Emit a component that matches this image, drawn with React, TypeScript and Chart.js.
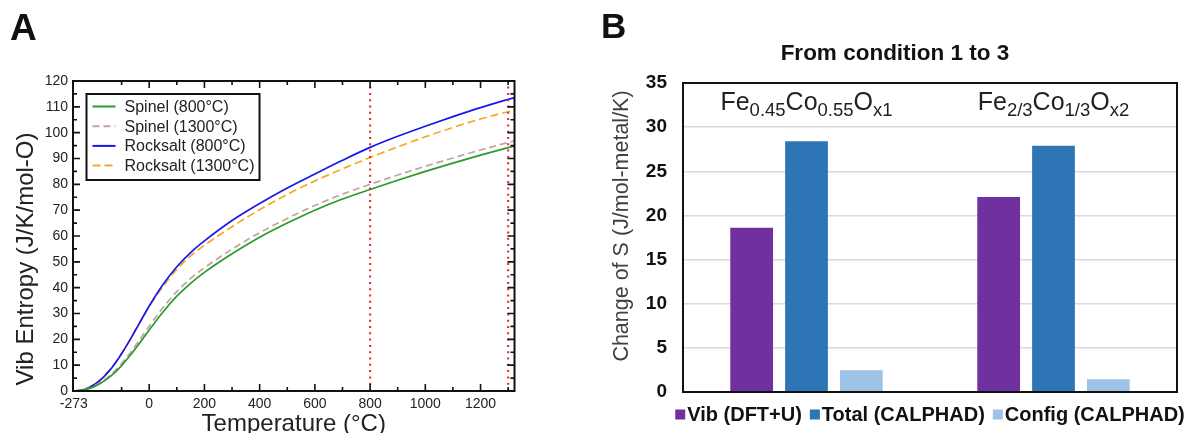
import React, { useEffect, useRef } from "react";
import { Chart, registerables } from "chart.js";

Chart.register(...registerables);

const FONT = "'Liberation Sans', Arial, Helvetica, sans-serif";
Chart.defaults.font.family = FONT;

// ---------- Panel A data ----------
const temperatures = [-273, -250, -225, -200, -175, -150, -125, -100, -75, -50, -25, 0, 50, 100, 150, 200, 300, 400, 500, 600, 700, 800, 900, 1000, 1100, 1200, 1300, 1325];
const spinel800 = [0, 0.2, 0.7, 1.7, 3.1, 4.9, 7.15, 9.85, 12.95, 16.35, 19.95, 23.6, 30.6, 36.7, 41.7, 45.9, 53.1, 59.5, 65, 70, 74.3, 78, 81.6, 85, 88.2, 91.3, 94.2, 94.9];
const spinel1300 = [0, 0.25, 0.8, 1.9, 3.4, 5.3, 7.7, 10.6, 13.9, 17.5, 21.3, 25.1, 32.3, 38.5, 43.6, 47.7, 54.9, 61.3, 66.8, 71.8, 76.2, 80, 83.6, 87, 90.2, 93.3, 96.2, 96.9];
const rocksalt800 = [0, 0.3, 1.0, 2.4, 4.4, 7.1, 10.45, 14.4, 18.8, 23.5, 28.25, 32.9, 41.2, 48.1, 53.6, 58.1, 66, 72.6, 78.6, 84, 89.3, 94.3, 98.6, 102.5, 106.2, 109.7, 112.9, 113.6];
const rocksalt1300 = [0, 0.35, 1.1, 2.6, 4.7, 7.4, 10.7, 14.6, 18.9, 23.5, 28.1, 32.6, 40.5, 47.1, 52.3, 56.4, 63.6, 70.2, 76.1, 81.3, 86, 90.4, 94.5, 98.4, 102, 105.3, 108.1, 108.7];
const seriesLabelsA = ["Spinel (800°C)", "Spinel (1300°C)", "Rocksalt (800°C)", "Rocksalt (1300°C)"];
const markerTemps = [800, 1300];
const xTicksA = [-273, 0, 200, 400, 600, 800, 1000, 1200];
const xMinorTicksA = [-100, 100, 300, 500, 700, 900, 1100, 1300];
const yTicksA = [0, 10, 20, 30, 40, 50, 60, 70, 80, 90, 100, 110, 120];
const yMinorTicksA = [5, 15, 25, 35, 45, 55, 65, 75, 85, 95, 105, 115];
const xRangeA = [-276, 1323];
const yRangeA = [0, 120];
const xTitleA = "Temperature (°C)";
const yTitleA = "Vib Entropy (J/K/mol-O)";

// ---------- Panel B data ----------
const compounds = ["Fe0.45Co0.55Ox1", "Fe2/3Co1/3Ox2"];
const compoundParts: [string, number][][] = [
  [["Fe", 0], ["0.45", 1], ["Co", 0], ["0.55", 1], ["O", 0], ["x1", 1]],
  [["Fe", 0], ["2/3", 1], ["Co", 0], ["1/3", 1], ["O", 0], ["x2", 1]],
];
const vibDFT = [18.6, 22.1];
const totalCALPHAD = [28.4, 27.9];
const configCALPHAD = [2.45, 1.45];
const seriesLabelsB = ["Vib (DFT+U)", "Total (CALPHAD)", "Config (CALPHAD)"];
const yTicksB = [0, 5, 10, 15, 20, 25, 30, 35];
const yRangeB = [0, 35];
const titleB = "From condition 1 to 3";
const yTitleB = "Change of S (J/mol-metal/K)";
const formulaBaselineValue = 31.9;

const colorsA = ["#2a9a2a", "#c4a2a2", "#1818ee", "#f7a628"];
const dashesA: number[][] = [[], [7, 4], [], [8, 4]];
const colorsB = ["#7030a0", "#2e75b6", "#9dc3e6"];

const panelAPlugin = {
  id: "panelA",
  afterDatasetsDraw(chart: any) {
    const { ctx, chartArea: ca, scales } = chart;
    const x = scales.x;
    const y = scales.y;
    ctx.save();
    ctx.strokeStyle = "#111";
    ctx.lineWidth = 2;
    ctx.strokeRect(ca.left, ca.top, ca.right - ca.left, ca.bottom - ca.top);
    ctx.lineWidth = 1.6;
    ctx.beginPath();
    const xt = (v: number, len: number) => {
      const px = x.getPixelForValue(v);
      ctx.moveTo(px, ca.bottom);
      ctx.lineTo(px, ca.bottom - len);
      ctx.moveTo(px, ca.top);
      ctx.lineTo(px, ca.top + len);
    };
    const yt = (v: number, len: number) => {
      const py = y.getPixelForValue(v);
      ctx.moveTo(ca.left, py);
      ctx.lineTo(ca.left + len, py);
      ctx.moveTo(ca.right, py);
      ctx.lineTo(ca.right - len, py);
    };
    xTicksA.slice(1).forEach((v) => xt(v, 7));
    xMinorTicksA.forEach((v) => xt(v, 4));
    yTicksA.forEach((v) => yt(v, 7));
    yMinorTicksA.forEach((v) => yt(v, 4));
    ctx.stroke();

    // y title
    ctx.save();
    ctx.translate(26, 259);
    ctx.rotate(-Math.PI / 2);
    ctx.font = `24px ${FONT}`;
    ctx.fillStyle = "#222";
    ctx.textAlign = "center";
    ctx.textBaseline = "middle";
    ctx.fillText(yTitleA, 0, 0);
    ctx.restore();

    // legend
    ctx.font = `16px ${FONT}`;
    const series = chart.data.datasets.filter((d: any) => d.isSeries);
    const maxW = Math.max(...series.map((d: any) => ctx.measureText(d.label).width));
    const bx = ca.left + 13.5;
    const by = ca.top + 13;
    const bw = 38 + maxW + 5;
    const bh = 86;
    ctx.fillStyle = "#fff";
    ctx.fillRect(bx, by, bw, bh);
    ctx.strokeStyle = "#111";
    ctx.lineWidth = 2;
    ctx.strokeRect(bx, by, bw, bh);
    series.forEach((d: any, i: number) => {
      const ry = by + 12.5 + i * 19.7;
      ctx.beginPath();
      ctx.strokeStyle = d.borderColor;
      ctx.lineWidth = 2;
      ctx.setLineDash(d.borderDash || []);
      ctx.moveTo(bx + 6, ry);
      ctx.lineTo(bx + 29, ry);
      ctx.stroke();
      ctx.setLineDash([]);
      ctx.fillStyle = "#222";
      ctx.textAlign = "left";
      ctx.textBaseline = "middle";
      ctx.fillText(d.label, bx + 38, ry + 1);
    });
    ctx.restore();
  },
};

const panelBPlugin = {
  id: "panelB",
  afterDatasetsDraw(chart: any) {
    const { ctx, chartArea: ca, scales } = chart;
    const x = scales.x;
    const y = scales.y;
    ctx.save();
    ctx.strokeStyle = "#111";
    ctx.lineWidth = 2;
    ctx.strokeRect(ca.left, ca.top, ca.right - ca.left, ca.bottom - ca.top);

    // formulas
    const baseY = y.getPixelForValue(formulaBaselineValue);
    compoundParts.forEach((parts, i) => {
      const fonts = [`25px ${FONT}`, `18.5px ${FONT}`];
      let total = 0;
      parts.forEach(([t, s]) => {
        ctx.font = fonts[s];
        total += ctx.measureText(t).width;
      });
      let cx = x.getPixelForValue(i) - total / 2;
      ctx.fillStyle = "#222";
      ctx.textAlign = "left";
      ctx.textBaseline = "alphabetic";
      parts.forEach(([t, s]) => {
        ctx.font = fonts[s];
        ctx.fillText(t, cx, baseY + (s ? 5.5 : 0));
        cx += ctx.measureText(t).width;
      });
    });

    // y title
    ctx.save();
    ctx.translate(22, 226);
    ctx.rotate(-Math.PI / 2);
    ctx.font = `21.5px ${FONT}`;
    ctx.fillStyle = "#404040";
    ctx.textAlign = "center";
    ctx.textBaseline = "middle";
    ctx.fillText(yTitleB, 0, 0);
    ctx.restore();

    // legend
    ctx.font = `bold 20px ${FONT}`;
    const ds = chart.data.datasets;
    const box = 10;
    const gap = 2;
    const spacing = 8;
    const widths = ds.map((d: any) => ctx.measureText(d.label).width);
    const totalW = widths.reduce((a: number, w: number) => a + box + gap + w, 0) + spacing * (ds.length - 1);
    let lx = (ca.left + ca.right) / 2 - totalW / 2;
    const ly = 414.5;
    ds.forEach((d: any, i: number) => {
      ctx.fillStyle = d.backgroundColor;
      ctx.fillRect(lx, ly - box / 2, box, box);
      lx += box + gap;
      ctx.fillStyle = "#111";
      ctx.textAlign = "left";
      ctx.textBaseline = "middle";
      ctx.fillText(d.label, lx, ly + 1);
      lx += widths[i] + spacing;
    });
    ctx.restore();
  },
};

function PanelA() {
  const ref = useRef<HTMLCanvasElement>(null);
  useEffect(() => {
    const seriesData = [spinel800, spinel1300, rocksalt800, rocksalt1300];
    const datasets: any[] = seriesData.map((arr, i) => ({
      label: seriesLabelsA[i],
      isSeries: true,
      data: temperatures.map((t, j) => ({ x: t, y: arr[j] })),
      borderColor: colorsA[i],
      borderDash: dashesA[i],
      borderWidth: 1.7,
      pointRadius: 0,
      fill: false,
      cubicInterpolationMode: "monotone",
      order: 0,
    }));
    markerTemps.forEach((t) => {
      datasets.push({
        label: `${t}°C`,
        isSeries: false,
        data: [{ x: t, y: yRangeA[0] }, { x: t, y: yRangeA[1] }],
        borderColor: "#e8313b",
        borderDash: [2, 4.3],
        borderWidth: 2.2,
        pointRadius: 0,
        fill: false,
        order: -1,
      });
    });
    const chart = new Chart(ref.current!, {
      type: "line",
      data: { datasets },
      options: {
        responsive: false,
        animation: false,
        devicePixelRatio: 1,
        layout: { padding: { top: 81, right: 75.5, left: 0, bottom: 0 } },
        plugins: { legend: { display: false }, tooltip: { enabled: false } },
        scales: {
          x: {
            type: "linear",
            min: xRangeA[0],
            max: xRangeA[1],
            afterBuildTicks: (s: any) => {
              s.ticks = xTicksA.map((v) => ({ value: v }));
            },
            afterFit: (s: any) => {
              s.height = 42;
            },
            ticks: {
              autoSkip: false,
              maxRotation: 0,
              padding: 4.5,
              color: "#222",
              font: { size: 14 },
              callback: (v: any) => String(v),
            },
            grid: { display: false, drawTicks: false },
            border: { display: false },
            title: {
              display: true,
              text: xTitleA,
              color: "#222",
              font: { size: 24 },
              padding: { top: 0, bottom: -6 },
            },
          },
          y: {
            type: "linear",
            min: yRangeA[0],
            max: yRangeA[1],
            afterBuildTicks: (s: any) => {
              s.ticks = yTicksA.map((v) => ({ value: v }));
            },
            afterFit: (s: any) => {
              s.width = 73;
            },
            ticks: {
              autoSkip: false,
              padding: 5,
              color: "#222",
              font: { size: 14 },
              callback: (v: any) => String(v),
            },
            grid: { display: false, drawTicks: false },
            border: { display: false },
          },
        },
      } as any,
      plugins: [panelAPlugin],
    });
    return () => chart.destroy();
  }, []);
  return (
    <canvas
      ref={ref}
      width={590}
      height={433}
      style={{ position: "absolute", left: 0, top: 0, width: 590, height: 433, display: "block" }}
    />
  );
}

function PanelB() {
  const ref = useRef<HTMLCanvasElement>(null);
  useEffect(() => {
    const values = [vibDFT, totalCALPHAD, configCALPHAD];
    const chart = new Chart(ref.current!, {
      type: "bar",
      data: {
        labels: compounds,
        datasets: values.map((arr, i) => ({
          label: seriesLabelsB[i],
          data: arr,
          backgroundColor: colorsB[i],
          borderWidth: 0,
          categoryPercentage: 0.666,
          barPercentage: 0.78,
        })),
      },
      options: {
        responsive: false,
        animation: false,
        devicePixelRatio: 1,
        layout: { padding: { top: 0, right: 37, left: 13, bottom: 41 } },
        plugins: {
          legend: { display: false },
          tooltip: { enabled: false },
          title: {
            display: true,
            text: titleB,
            color: "#111",
            font: { size: 22.5, weight: "bold" },
            padding: { top: 40, bottom: 16 },
          },
        },
        scales: {
          x: { display: false },
          y: {
            min: yRangeB[0],
            max: yRangeB[1],
            afterBuildTicks: (s: any) => {
              s.ticks = yTicksB.map((v) => ({ value: v }));
            },
            afterFit: (s: any) => {
              s.width = 70;
            },
            ticks: {
              padding: 16,
              color: "#111",
              font: { size: 19, weight: "bold" },
              callback: (v: any) => String(v),
            },
            grid: { color: "#d9d9d9", lineWidth: 1.5, drawTicks: false },
            border: { display: false },
          },
        },
      } as any,
      plugins: [panelBPlugin],
    });
    return () => chart.destroy();
  }, []);
  return (
    <canvas
      ref={ref}
      width={614}
      height={433}
      style={{ position: "absolute", left: 600, top: 0, width: 614, height: 433, display: "block" }}
    />
  );
}

export default function App() {
  const letter: React.CSSProperties = {
    position: "absolute",
    fontFamily: FONT,
    fontWeight: "bold",
    lineHeight: "36px",
    color: "#111",
  };
  return (
    <div
      style={{
        position: "fixed",
        left: 0,
        top: 0,
        width: 1188,
        height: 433,
        overflow: "hidden",
        background: "#fff",
      }}
    >
      <PanelA />
      <PanelB />
      <div style={{ ...letter, fontSize: 37, left: 10, top: 10 }}>A</div>
      <div style={{ ...letter, fontSize: 35, left: 601, top: 8 }}>B</div>
    </div>
  );
}
